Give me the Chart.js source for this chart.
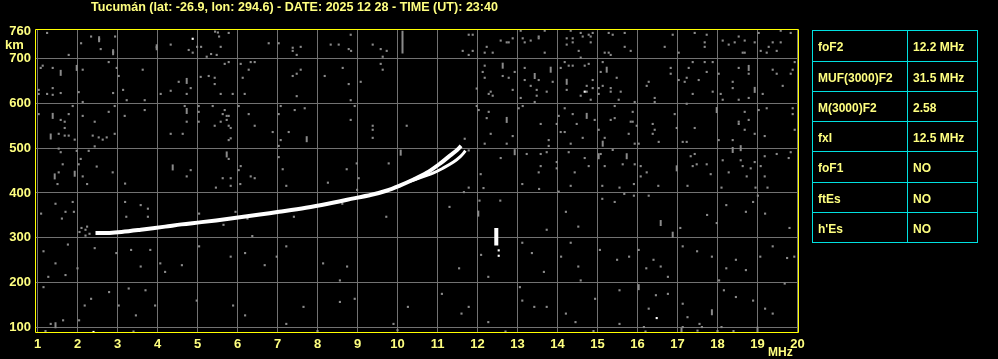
<!DOCTYPE html>
<html>
<head>
<meta charset="utf-8">
<script src="https://cdn.jsdelivr.net/npm/chart.js@4/dist/chart.umd.min.js"></script>
<style>
  html, body { margin:0; padding:0; background:#000; }
  #wrap { position:relative; width:998px; height:359px; overflow:hidden; background:#000; }
  #c { position:absolute; left:0; top:0; }
  .cell { position:absolute; box-sizing:border-box; border:1px solid #00E0E0; color:#FFFF80;
          font:bold 12px "Liberation Sans", Arial, sans-serif; display:flex; align-items:center;
          padding-left:5px; padding-top:2px; white-space:nowrap; }
</style>
</head>
<body>
<div id="wrap"><canvas id="c" width="998" height="359"></canvas></div>
<script>
// ---------- DATA ----------
const titleText = "Tucumán (lat: -26.9, lon: 294.6) - DATE: 2025 12 28 - TIME (UT): 23:40";
const freqTicks = [1,2,3,4,5,6,7,8,9,10,11,12,13,14,15,16,17,18,19,20];
const heightTicks = [100,200,300,400,500,600,700,760];
const xUnit = "MHz";
const yUnit = "km";

// ordinary-ray trace (MHz, km)
const oTrace = [[2.45,311],[2.8,311],[3.1,313],[3.58,318],[4.19,325],[4.6,330],[5.1,335],[5.83,343],
  [6.56,352],[7.04,358],[7.71,367],[8.26,376],[8.74,385],[9.35,396],[9.72,405],[10.07,417],
  [10.4,430],[10.73,445],[11.07,466],[11.32,484],[11.49,496],[11.59,505]];
// extraordinary-ray branch
const xTrace = [[10.3,426],[10.9,445],[11.15,456],[11.4,469],[11.57,481],[11.7,494]];
// short vertical echo near 12.5 MHz
const spikeEcho = [[12.47,322],[12.47,283]];
// thin vertical gray mark near the top
const topMark = [[10.125,762],[10.125,711]];

const whiteDots = [[4.88,744],[14.68,626],[2.4,90],[16.48,121],[12.53,272],[12.53,260]];

const noiseTop = [[1.24,757],[1.78,708],[2.34,749],[2.54,743],[2.94,749],[2.09,734],[2.58,721],[2.89,714],[3.98,725],[4.33,731],[4.78,719],[4.88,713],[4.99,726],[5.09,726],[5.34,710],[5.48,708],[5.23,704],[5.44,760],[5.51,758],[5.54,749],[5.78,757],[5.58,726],[6.78,734],[7.03,734],[7.38,724],[7.48,708],[7.58,726],[7.38,717],[8.33,731],[8.53,731],[8.78,721],[8.84,717],[8.83,753],[9.38,731],[9.58,721],[9.73,717],[9.63,704],
  [11.78,753],[11.88,753],[11.63,717],[11.78,708],[11.88,717],[12.23,726],[12.18,713],[12.38,713],[12.58,740],[12.73,736],[12.78,736],[12.88,745],[13.08,762],[13.13,745],[13.18,736],[13.33,740],[13.53,749],[13.53,745],[13.68,713],[13.68,762],[14.23,745],[14.38,745],[14.33,762],[14.58,757],[14.63,749],[14.78,753],[14.83,749],[14.88,757],[14.83,736],[14.38,736],[14.23,731],[14.53,717],[14.58,702],[15.28,757],[15.38,753],[15.68,757],[15.68,726],[15.83,717],[15.18,713],[15.28,713],[15.33,708],[16.68,726],[16.88,753],[17.03,713],[17.43,757],[17.73,753],[17.68,736],[17.68,726],[18.13,740],[18.28,731],[18.43,736],[18.53,749],[18.68,740],[18.68,713],[18.63,713],[18.93,736],[19.03,757],[19.08,717],[19.28,726],[19.38,736],[19.48,717],[19.58,736],[19.58,762],[19.83,757],[19.23,713]];

const noiseUpper = [[1.08,679],[1.13,684],[1.38,679],[2.13,675],[2.78,692],[2.98,679],[3.03,661],[1.03,630],[1.03,621],[1.24,621],[1.38,634],[1.38,619],[1.58,623],[2.03,625],[2.13,603],[2.89,623],[3.14,630],[3.23,607],[3.68,607],[3.63,675],[4.08,621],[4.33,628],[4.53,648],[4.83,634],[4.73,621],[5.08,659],[5.28,661],[5.43,657],[5.43,643],[5.58,621],[5.68,688],[5.78,692],[5.88,621],[6.08,688],[6.13,657],[6.18,621],[6.28,675],[6.33,692],[6.43,692],[7.38,661],[7.48,666],[7.58,675],[7.48,616],[8.18,661],[8.63,679],[8.78,643],[8.83,607],[9.08,648],[9.58,688],[9.63,675],
  [11.98,633],[12.13,670],[12.18,684],[12.18,657],[12.33,626],[12.38,617],[12.28,621],[12.78,657],[12.88,630],[12.93,670],[12.63,661],[13.18,679],[13.18,652],[13.33,639],[13.53,652],[13.48,630],[13.48,617],[13.73,626],[13.88,648],[13.08,612],[13.43,603],[14.18,692],[14.08,679],[14.28,684],[14.38,684],[14.68,684],[14.78,688],[14.23,630],[14.73,626],[14.88,652],[14.88,634],[14.73,639],[14.83,608],[14.58,617],[15.13,692],[15.08,670],[15.13,639],[15.33,634],[15.33,626],[15.48,657],[15.58,626],[15.53,608],[15.03,621],[15.03,634],[16.28,648],[16.23,639],[16.43,612],[16.43,603],[16.83,679],[16.83,666],[17.18,648],[17.23,657],[17.38,692],[17.28,679],[17.53,652],[17.68,692],[17.73,670],[17.88,692],[17.88,626],[17.38,621],[17.03,652],[18.03,666],[18.08,621],[18.13,608],[18.38,648],[18.38,634],[18.53,679],[18.78,666],[18.53,608],[18.78,612],[19.13,621],[19.38,675],[19.48,666],[19.63,639],[19.83,666],[19.88,675],[19.93,692]];

const noiseMiddle = [[1.03,576],[1.58,563],[1.68,559],[1.78,576],[1.68,545],[1.53,532],[1.68,528],[1.78,528],[1.93,519],[1.88,594],[2.13,572],[2.43,559],[2.78,581],[2.93,594],[3.18,572],[2.38,528],[2.53,524],[2.63,519],[2.73,524],[2.93,532],[3.68,585],[4.33,532],[4.63,532],[4.68,594],[4.73,559],[5.03,594],[5.03,581],[5.03,559],[5.38,594],[5.68,585],[5.63,576],[5.73,572],[5.78,572],[5.58,559],[5.43,550],[5.73,563],[5.83,545],[5.78,550],[5.78,518],[5.83,522],[6.03,594],[6.28,576],[6.43,550],[6.88,536],[7.08,594],[7.03,576],[7.08,518],[7.28,536],[7.43,585],[7.68,589],[8.83,563],[8.93,594],[9.38,550],[9.38,541],[9.38,523],[10.23,550],
  [11.98,594],[12.03,585],[12.28,581],[12.23,567],[12.33,532],[12.88,527],[12.73,510],[12.18,510],[13.03,589],[13.13,594],[13.58,554],[13.78,518],[13.78,505],[13.98,554],[14.18,589],[14.03,572],[14.08,536],[14.18,536],[14.38,576],[14.48,554],[14.63,523],[14.93,563],[14.33,510],[15.03,541],[15.18,523],[15.43,594],[15.33,563],[15.43,567],[15.83,559],[15.88,559],[15.78,532],[15.98,550],[16.03,510],[15.93,510],[15.88,581],[15.93,603],[16.38,554],[16.38,532],[16.53,514],[16.43,541],[16.93,576],[16.98,545],[17.23,599],[17.43,545],[17.23,514],[17.13,514],[18.03,518],[18.38,518],[18.53,554],[18.53,559],[18.68,581],[18.78,563],[18.68,541],[18.93,532],[19.03,585],[19.18,527],[19.23,589],[19.88,589],[19.88,576],[19.93,541],
  [1.53,499],[1.58,491],[1.63,464],[1.53,446],[1.98,494],[2.08,476],[2.03,464],[2.13,437],[2.28,494],[2.43,504],[2.48,459],[2.88,446],[4.83,451],[4.73,437],[5.78,476],[5.63,433],[5.83,433],[6.08,460],[6.03,451],[6.33,437],[6.43,433],[7.03,480],[7.13,453],[7.03,505],[8.73,453],[8.98,466],[9.03,433],[9.78,466],
  [11.78,495],[11.68,521],[12.08,442],[12.58,478],[13.23,487],[13.58,487],[13.58,460],[13.53,446],[13.73,491],[13.98,469],[13.98,455],[14.28,491],[14.43,446],[14.68,478],[14.78,460],[15.08,487],[15.18,460],[15.38,496],[15.63,464],[15.93,464],[16.08,460],[16.08,437],[16.23,446],[17.33,482],[17.38,460],[17.48,464],[17.43,487],[17.73,464],[17.83,442],[18.13,473],[18.28,446],[18.58,473],[18.63,460],[18.83,455],[18.73,437],[18.93,469],[19.08,460],[19.18,482],[19.48,487],[19.78,478],[19.83,491],[19.18,437]];

const noiseLower = [[1.50,420],[2.24,420],[3.19,421],[5.46,412],[5.83,416],[6.07,420],[7.22,416],[8.26,423],[8.99,407],[11.78,412],[12.15,411],[13.12,420],[13.54,409],[14.03,403],[14.33,416],[15.12,416],[15.55,412],[15.91,420],[16.52,416],[17.25,416],[18.10,412],[18.95,412],[19.25,412],
  [1.09,354],[1.45,376],[1.70,358],[1.91,358],[1.61,343],[1.88,380],[2.24,325],[3.19,380],[3.58,373],[3.76,365],[3.76,347],[3.22,347],[5.04,354],[5.65,329],[5.95,358],[6.25,343],[6.37,304],[7.41,347],[8.62,376],[8.93,387],[9.72,347],[11.30,369],[11.66,402],[12.05,383],[12.57,383],[13.73,318],[14.21,358],[14.52,325],[15.12,387],[15.43,380],[15.67,398],[15.91,394],[16.28,394],[17.07,322],[17.74,351],[17.98,333],[18.22,373],[18.71,358],[18.89,380],[19.01,394],[19.80,322],[19.19,354],
  [2.1,322],[2.2,318],[2.3,309],[2.2,305],[2.05,313],
  [1.15,270],[1.45,243],[1.76,285],[2.0,232],[1.27,213],[1.70,217],[2.43,277],[2.97,266],[3.34,273],[3.58,236],[3.82,273],[4.07,243],[4.19,224],[4.61,239],[5.04,281],[5.83,258],[6.19,266],[6.68,239],[6.98,258],[7.22,281],[8.56,205],[8.14,243],[8.74,236],[11.54,232],[12.09,262],[12.27,213],[13.12,289],[13.36,266],[13.66,224],[14.09,258],[14.33,289],[14.52,236],[14.58,205],[15.06,273],[15.49,251],[15.79,258],[16.03,273],[16.22,232],[16.40,251],[16.58,236],[16.76,213],[17.13,281],[17.49,270],[17.86,258],[18.04,205],[18.22,232],[18.46,251],[18.71,228],[19.07,258],[19.38,281],[19.74,255],[19.92,258],
  [1.15,190],[1.33,108],[1.64,116],[2.04,116],[2.18,149],[2.34,164],[2.79,179],[3.03,149],[3.28,187],[3.46,127],[3.70,183],[3.94,149],[4.98,160],[5.89,149],[6.19,127],[7.22,108],[7.65,146],[8.56,157],[8.93,164],[9.90,108],[10.26,146],[11.11,175],[11.60,131],[11.78,146],[12.27,112],[13.06,190],[13.12,160],[13.42,146],[13.73,146],[14.21,131],[14.45,112],[14.94,164],[15.55,183],[16.28,142],[16.46,172],[16.76,175],[17.13,153],[17.25,123],[17.55,108],[18.16,183],[18.46,168],[18.89,160],[19.19,142],[19.38,131],[19.68,198],[15.55,108],[16.16,101],[17.13,101],[17.61,101],[18.10,101],
  [1.2,92],[3.4,91],[8.0,92],[10.0,94],[12.7,91],[14.9,92],[16.2,91],[17.5,93],[18.0,92],[18.4,92]];

// taller (vertically stretched) noise marks
const noiseTall = [[2.54,743],[2.89,714],[3.98,725],[1.58,668],[1.98,679],[4.73,650],[1.38,572],[1.33,526],[4.73,583],[7.73,520],[1.43,437],[1.93,443],[4.38,457],[5.73,486],[10.08,490],[12.63,684],[13.43,661],[13.83,675],[14.23,648],[15.23,675],[18.78,679],[18.93,630],[12.73,563],[14.73,572],[15.13,510],[17.98,585],[12.93,491],[15.03,482],[15.73,482],[16.98,455],[18.38,496],[18.58,500],[12.02,354],[16.58,333],[16.88,307],[16.03,190],[17.86,134],[1.45,105],[17.1,93],[19.0,95]];

const tableLabels = ["foF2","MUF(3000)F2","M(3000)F2","fxI","foF1","ftEs","h'Es"];
const tableValues = ["12.2 MHz","31.5 MHz","2.58","12.5 MHz","NO","NO","NO"];

// ---------- BUILD ----------
const pts = a => a.map(p => ({x:p[0], y:p[1]}));
const LABEL = '#FFFF80';
const GRID = '#727272';
const NOISE = '#8a8a8a';
const FONT = '"Liberation Sans", Arial, sans-serif';

const decor = {
  id:'decor',
  beforeDraw(chart){
    const ctx = chart.ctx;
    ctx.save(); ctx.fillStyle = '#000'; ctx.fillRect(0,0,chart.width,chart.height); ctx.restore();
  },
  afterDraw(chart){
    const {ctx, chartArea:a} = chart;
    ctx.save();
    ctx.strokeStyle = '#FFFF00'; ctx.lineWidth = 1;
    ctx.beginPath();
    ctx.moveTo(a.left-0.5, a.top-0.5);
    ctx.lineTo(a.right+0.5, a.top-0.5);
    ctx.lineTo(a.right+0.5, a.bottom-0.5);
    ctx.lineTo(a.left-0.5, a.bottom-0.5);
    ctx.closePath(); ctx.stroke();
    ctx.fillStyle = LABEL;
    ctx.textBaseline = 'alphabetic';
    ctx.textAlign = 'left';
    ctx.font = 'bold 13px ' + FONT;
    ctx.fillText(titleText, 91, 11, 407);
    ctx.fillText(yUnit, 5, 49);
    ctx.font = 'bold 12px ' + FONT;
    ctx.fillText(xUnit, 768, 356, 25);
    ctx.restore();
  }
};

const tickFont = {family: FONT, size: 13, weight: 'bold'};

new Chart(document.getElementById('c'), {
  type: 'scatter',
  data: {
    datasets: [
      {data: pts(oTrace), showLine: true, borderColor: '#fff', borderWidth: 4, tension: 0.35, pointRadius: 0, fill: false},
      {data: pts(xTrace), showLine: true, borderColor: '#fff', borderWidth: 3, tension: 0.35, pointRadius: 0, fill: false},
      {data: pts(spikeEcho), showLine: true, borderColor: '#fff', borderWidth: 4, pointRadius: 0, fill: false},
      {data: pts(whiteDots), backgroundColor: '#fff', pointStyle: 'rect', pointRadius: 1.5, borderWidth: 0},
      {data: pts(topMark), showLine: true, borderColor: NOISE, borderWidth: 2, pointRadius: 0, fill: false},
      {data: pts(noiseTall), pointStyle: 'line', rotation: 90, pointRadius: 3, borderColor: NOISE, borderWidth: 2},
      {data: pts(noiseTop), backgroundColor: NOISE, pointStyle: 'rect', pointRadius: 1.5, borderWidth: 0},
      {data: pts(noiseUpper), backgroundColor: NOISE, pointStyle: 'rect', pointRadius: 1.5, borderWidth: 0},
      {data: pts(noiseMiddle), backgroundColor: NOISE, pointStyle: 'rect', pointRadius: 1.5, borderWidth: 0},
      {data: pts(noiseLower), backgroundColor: NOISE, pointStyle: 'rect', pointRadius: 1.5, borderWidth: 0}
    ]
  },
  options: {
    responsive: false,
    animation: false,
    events: [],
    layout: {padding: {top: 30, right: 200, left: 0, bottom: 0}},
    plugins: {legend: {display: false}, tooltip: {enabled: false}, title: {display: false}},
    scales: {
      x: {
        type: 'linear', min: 0.9625, max: 20.0125,
        afterBuildTicks: s => { s.ticks = freqTicks.map(v => ({value: v})); },
        afterFit: s => { s.height = 26; },
        grid: {color: GRID, lineWidth: 1, drawTicks: false},
        border: {display: false},
        ticks: {color: LABEL, font: tickFont, padding: 4, autoSkip: false, maxRotation: 0,
                callback: v => String(v)}
      },
      y: {
        type: 'linear', min: 87.72, max: 763.57,
        afterBuildTicks: s => { s.ticks = heightTicks.map(v => ({value: v})); },
        afterFit: s => { s.width = 36; },
        grid: {color: c => (c.tick && c.tick.value === 760) ? 'rgba(0,0,0,0)' : GRID, lineWidth: 1, drawTicks: false},
        border: {display: false},
        ticks: {color: LABEL, font: tickFont, padding: 5, autoSkip: false, callback: v => String(v)}
      }
    }
  },
  plugins: [decor]
});

// ---------- TABLE ----------
const wrap = document.getElementById('wrap');
const rowTops = [30,61,91,121,151,182,212,242];
for (let i = 0; i < tableLabels.length; i++) {
  const top = rowTops[i], h = rowTops[i+1] - top + 1;
  const c1 = document.createElement('div');
  c1.className = 'cell';
  c1.style.cssText = `left:812px;top:${top}px;width:96px;height:${h}px;`;
  c1.textContent = tableLabels[i];
  const c2 = document.createElement('div');
  c2.className = 'cell';
  c2.style.cssText = `left:907px;top:${top}px;width:71px;height:${h}px;`;
  c2.textContent = tableValues[i];
  wrap.appendChild(c1); wrap.appendChild(c2);
}
</script>
</body>
</html>
